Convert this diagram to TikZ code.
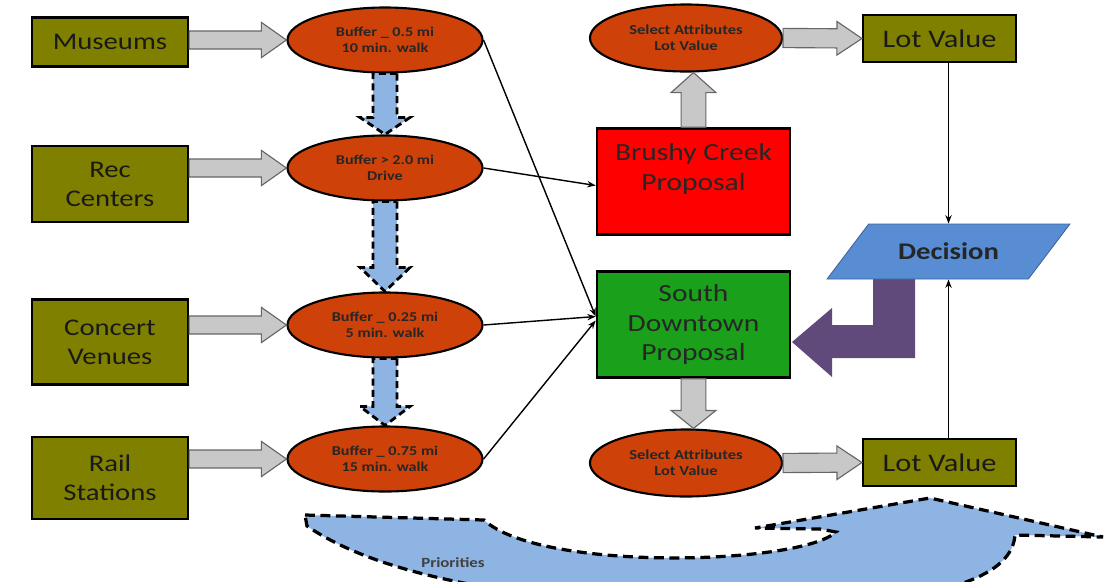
\documentclass[tikz,border=0pt]{standalone}
\usepackage{fontspec}
\setmainfont{Carlito}[FakeStretch=1.2]
\usetikzlibrary{arrows.meta, calc, shapes.geometric}

\definecolor{olivebox}{RGB}{128,128,0}
\definecolor{bufferred}{RGB}{206,66,10}
\definecolor{arrowgray}{RGB}{200,200,200}
\definecolor{flowblue}{RGB}{141,180,226}
\definecolor{brushyred}{RGB}{255,0,0}
\definecolor{downgreen}{RGB}{26,160,26}
\definecolor{decblue}{RGB}{88,141,212}
\definecolor{turnpurple}{RGB}{96,74,123}

% block arrow: style, from, to, shaft half width, head half width, head length
\newcommand{\blockarr}[6]{%
  \coordinate (ba-s) at (#2);
  \coordinate (ba-e) at (#3);
  \coordinate (ba-h) at ($(ba-e)!#6!(ba-s)$);
  \draw[#1] ($(ba-s)!#4!90:(ba-e)$) -- ($(ba-h)!#4!90:(ba-e)$)
    -- ($(ba-h)!#5!90:(ba-e)$) -- (ba-e) -- ($(ba-h)!#5!-90:(ba-e)$)
    -- ($(ba-h)!#4!-90:(ba-e)$) -- ($(ba-s)!#4!-90:(ba-e)$) -- cycle;
}

\begin{document}
\begin{tikzpicture}[x=0.025cm, y=-0.025cm, >=Stealth,
  srcbox/.style={draw=black, line width=1.5pt, fill=olivebox, minimum width=3.9cm,
    align=center, font=\fontsize{17}{20.5}\selectfont, text=black!90},
  buffer/.style={ellipse, draw=black, line width=1.5pt, fill=bufferred,
    minimum width=4.875cm, minimum height=1.625cm, align=center, inner sep=1pt,
    font=\bfseries\fontsize{9.6}{11.2}\selectfont, text=black!85},
  select/.style={buffer, minimum width=4.8cm, minimum height=1.675cm,
    font=\bfseries\fontsize{9.8}{11.2}\selectfont},
  lotbox/.style={srcbox, minimum width=3.825cm, minimum height=1.175cm,
    font=\fontsize{18}{21}\selectfont},
  proposal/.style={draw=black, line width=1.8pt, minimum width=4.825cm,
    minimum height=2.65cm, align=center, font=\fontsize{17.5}{21}\selectfont, text=black!85},
  grayarr/.style={fill=arrowgray, draw=gray!80!black, line width=0.8pt},
  bluearr/.style={fill=flowblue, draw=black, line width=2pt, dash pattern=on 5pt off 3pt},
  conn/.style={-{Stealth[length=6pt, width=4.5pt]}, line width=1pt},
  decshape/.style={trapezium, trapezium left angle=42.5, trapezium right angle=137.5,
    trapezium stretches=true, minimum width=6.075cm, minimum height=1.375cm,
    fill=decblue, draw=decblue!70!black, line width=0.6pt,
    font=\bfseries\fontsize{17}{20}\selectfont, text=black!85},
  prioshape/.style={fill=flowblue, draw=black, line width=2.3pt, dash pattern=on 7pt off 4pt}]

  \useasboundingbox (0,0) rectangle (1109,581);

  % priorities sweep along the bottom
  \begin{scope}
    \clip (0,0) rectangle (1109,581);
    \draw[prioshape] (305,515) -- (484,520)
      .. controls (540,572) and (800,565) .. (836,532) -- (820,529) -- (755,528)
      -- (930,498) -- (1103,537) -- (1015,535)
      .. controls (1012,575) and (950,600) .. (800,605)
      .. controls (600,610) and (400,590) .. (307,526) -- cycle;
  \end{scope}
  \node[font=\bfseries\fontsize{10}{12}\selectfont, text=black!75] (prio) at (453,563) {Priorities};

  % sources
  \node[srcbox, minimum height=1.225cm] (mus) at (110,42) {Museums};
  \node[srcbox, minimum height=1.9cm] (rec) at (110,184) {Rec\\Centers};
  \node[srcbox, minimum height=2.125cm] (con) at (110,342) {Concert\\Venues};
  \node[srcbox, minimum height=2.05cm] (rail) at (110,478) {Rail\\Stations};

  % buffers
  \node[buffer] (b1) at (385,40) {Buffer \_ 0.5 mi\\10 min. walk};
  \node[buffer] (b2) at (385,168) {Buffer > 2.0 mi\\Drive};
  \node[buffer] (b3) at (385,325) {Buffer \_ 0.25 mi\\5 min. walk};
  \node[buffer] (b4) at (385,459) {Buffer \_ 0.75 mi\\15 min. walk};

  % proposals
  \node[proposal, fill=brushyred] (bcp) at (693.5,181.5) {Brushy Creek\\Proposal\\~};
  \node[proposal, fill=downgreen] (sdp) at (693.5,324.5) {South\\Downtown\\Proposal};

  % attributes and lot values
  \node[select] (sel1) at (686,38) {Select Attributes\\Lot Value};
  \node[select] (sel2) at (686,463) {Select Attributes\\Lot Value};
  \node[lotbox] (lv1) at (939.5,38.5) {Lot Value};
  \node[lotbox] (lv2) at (939.5,462.5) {Lot Value};

  % purple turn back to the proposal
  \fill[turnpurple] (873,279) -- (915,279) -- (915,358) -- (832,358) -- (832,377)
    -- (792,342) -- (832,308) -- (832,325) -- (873,325) -- cycle;
  \node[decshape] (dec) at (948.5,251.5) {Decision};

  % gray block arrows
  \blockarr{grayarr}{mus.east |- b1.west}{b1.west}{0.225cm}{0.44cm}{0.625cm}
  \blockarr{grayarr}{rec.east |- b2.west}{b2.west}{0.225cm}{0.44cm}{0.625cm}
  \blockarr{grayarr}{con.east |- b3.west}{b3.west}{0.225cm}{0.44cm}{0.625cm}
  \blockarr{grayarr}{rail.east |- b4.west}{b4.west}{0.225cm}{0.44cm}{0.625cm}
  \blockarr{grayarr}{sel1.east}{lv1.west}{0.24cm}{0.42cm}{0.625cm}
  \blockarr{grayarr}{sel2.east}{lv2.west}{0.24cm}{0.42cm}{0.625cm}
  \blockarr{grayarr}{bcp.north}{bcp.north |- sel1.south}{0.31cm}{0.56cm}{0.5cm}
  \blockarr{grayarr}{sdp.south}{sdp.south |- sel2.north}{0.31cm}{0.56cm}{0.45cm}

  % dashed blue arrows between buffers
  \blockarr{bluearr}{b1.south}{b2.north}{0.3cm}{0.625cm}{0.425cm}
  \blockarr{bluearr}{b2.south}{b3.north}{0.3cm}{0.625cm}{0.6cm}
  \blockarr{bluearr}{b3.south}{b4.north}{0.3cm}{0.625cm}{0.475cm}

  % thin connectors
  \coordinate (sdin) at ($(sdp.west)+(0,-8)$);
  \draw[conn] (b1.east) -- (sdin);
  \draw[conn] (b2.east) -- ($(bcp.west)+(0,4)$);
  \draw[conn] (b3.east) -- (sdin);
  \draw[conn] (b4.east) -- ($(sdp.west)+(0,-4)$);
  \draw[conn] (dec.north |- lv1.south) -- (dec.north);
  \draw[conn] (dec.south |- lv2.north) -- (dec.south);
\end{tikzpicture}
\end{document}
